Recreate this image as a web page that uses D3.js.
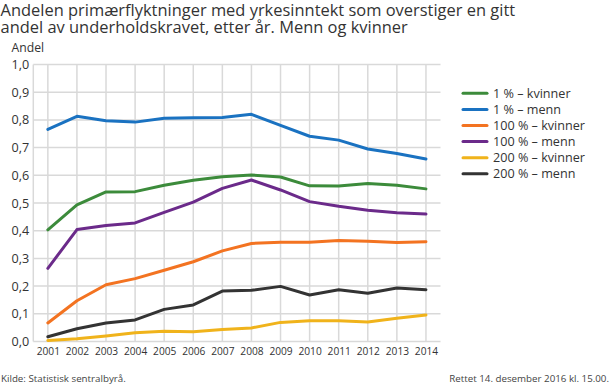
<!DOCTYPE html>
<html><head><meta charset="utf-8">
<script src="https://cdn.jsdelivr.net/npm/d3@7"></script>
<style>body{margin:0;background:#fff}svg{display:block;font-family:"Open Sans",sans-serif}</style>
</head><body>
<svg id="c" width="610" height="386"></svg>
<script>
const years = [2001,2002,2003,2004,2005,2006,2007,2008,2009,2010,2011,2012,2013,2014];
const seriesNames = ["1 % – kvinner","1 % – menn","100 % – kvinner","100 % – menn","200 % – kvinner","200 % – menn"];
const seriesColors = ["#3c8b3b","#1a72c1","#f37321","#6b2a8a","#f0b31b","#333333"];
const kvinner1 = [0.403,0.493,0.540,0.541,0.564,0.582,0.595,0.601,0.594,0.562,0.561,0.570,0.564,0.551];
const menn1 = [0.766,0.813,0.797,0.792,0.806,0.808,0.809,0.820,0.780,0.741,0.727,0.695,0.679,0.659];
const kvinner100 = [0.067,0.147,0.205,0.227,0.257,0.288,0.327,0.354,0.358,0.358,0.365,0.362,0.357,0.360];
const menn100 = [0.264,0.404,0.419,0.428,0.466,0.503,0.553,0.583,0.547,0.505,0.488,0.474,0.465,0.460];
const kvinner200 = [0.004,0.010,0.020,0.032,0.037,0.035,0.043,0.049,0.069,0.075,0.075,0.070,0.084,0.096];
const menn200 = [0.017,0.046,0.067,0.078,0.116,0.132,0.182,0.185,0.199,0.168,0.187,0.174,0.193,0.187];
const yTicks = [0,0.1,0.2,0.3,0.4,0.5,0.6,0.7,0.8,0.9,1.0];
const seriesValues = [kvinner1,menn1,kvinner100,menn100,kvinner200,menn200];

const svg = d3.select("#c");
const pLeft = 33.3, pRight = 440.5, pTop = 64.5, pBottom = 341.5;
const x = d3.scalePoint().domain(years).range([pLeft,pRight]).padding(0.5);
const y = d3.scaleLinear().domain([0,1]).range([pBottom,pTop]);
const fmt = d => d3.format(".1f")(d).replace(".",",");

// font size that makes a sample string reach a target width
function fitSize(sample, target){
  const t = svg.append("text").attr("font-size",20).text(sample);
  const w = t.node().getComputedTextLength();
  t.remove();
  return 20*target/w;
}
const titleSize = fitSize("Andelen primærflyktninger med yrkesinntekt som overstiger en gitt", 515);
const tickSize = fitSize("2001", 23.3);
const legSize = fitSize("1 % – kvinner", 77.7);
const footSize = fitSize("Kilde: Statistisk sentralbyrå.", 125);
const andelSize = fitSize("Andel", 32.6);

// title
svg.append("text").attr("x",0.5).attr("y",15.5).attr("font-size",titleSize).attr("fill","#333")
  .text("Andelen primærflyktninger med yrkesinntekt som overstiger en gitt");
svg.append("text").attr("x",0.5).attr("y",32.5).attr("font-size",titleSize).attr("fill","#333")
  .text("andel av underholdskravet, etter år. Menn og kvinner");
svg.append("text").attr("x",11.5).attr("y",51.5).attr("font-size",andelSize).attr("fill","#333").text("Andel");

// grid
const g = svg.append("g");
g.selectAll("line.h").data(yTicks).join("line").attr("class","h")
  .attr("x1",pLeft).attr("x2",pRight).attr("y1",d=>y(d)).attr("y2",d=>y(d))
  .attr("stroke","#d9d9d9").attr("stroke-width",1.5);
g.selectAll("line.v").data(years).join("line").attr("class","v")
  .attr("x1",d=>x(d)).attr("x2",d=>x(d)).attr("y1",pTop).attr("y2",pBottom)
  .attr("stroke","#d9d9d9").attr("stroke-width",1.5);
g.append("line").attr("x1",pLeft).attr("x2",pLeft).attr("y1",pTop).attr("y2",pBottom)
  .attr("stroke","#d9d9d9").attr("stroke-width",1.5);

// axes
const ya = svg.append("g").attr("transform",`translate(${pLeft},0)`)
  .call(d3.axisLeft(y).tickValues(yTicks).tickFormat(fmt).tickSize(0).tickPadding(4));
ya.select(".domain").remove();
ya.selectAll("text").attr("font-size",legSize).attr("fill","#333").attr("font-family","Open Sans");
const xa = svg.append("g").attr("transform",`translate(0,${pBottom})`)
  .call(d3.axisBottom(x).tickSize(0).tickPadding(6));
xa.select(".domain").remove();
xa.selectAll("text").attr("font-size",tickSize).attr("fill","#333").attr("font-family","Open Sans");

// lines
const line = d3.line().x((d,i)=>x(years[i])).y(d=>y(d));
svg.selectAll("path.s").data(seriesValues).join("path").attr("class","s")
  .attr("d",line).attr("fill","none").attr("stroke",(d,i)=>seriesColors[i])
  .attr("stroke-width",3).attr("stroke-linejoin","round").attr("stroke-linecap","round");

// legend
const lg = svg.append("g");
seriesNames.forEach((n,i)=>{
  const yy = 93.3 + i*16.1;
  lg.append("line").attr("x1",463).attr("x2",487).attr("y1",yy).attr("y2",yy)
    .attr("stroke",seriesColors[i]).attr("stroke-width",3).attr("stroke-linecap","round");
  lg.append("text").attr("x",493).attr("y",yy+4.5).attr("font-size",legSize).attr("fill","#333").text(n);
});

// footer
svg.append("text").attr("x",1).attr("y",381.5).attr("font-size",footSize).attr("fill","#444").text("Kilde: Statistisk sentralbyrå.");
svg.append("text").attr("x",609).attr("y",381.5).attr("font-size",footSize).attr("fill","#444").attr("text-anchor","end").text("Rettet 14. desember 2016 kl. 15.00.");
</script>
</body></html>
